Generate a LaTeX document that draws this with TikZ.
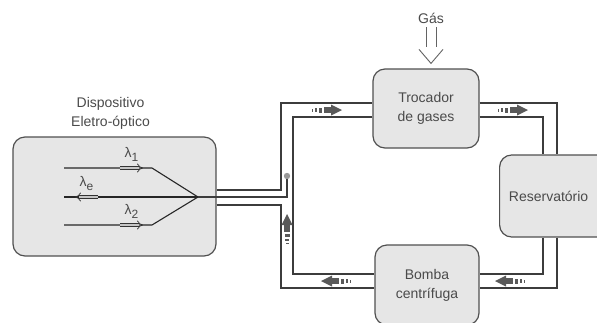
\documentclass[tikz,border=0pt]{standalone}
\usepackage{fontspec}
\setmainfont{Liberation Sans}
\usetikzlibrary{positioning,arrows.meta}
\definecolor{boxgray}{HTML}{E6E6E6}
\definecolor{linegray}{HTML}{3C3C3C}
\definecolor{txtgray}{HTML}{4A4A4A}
\newcommand{\lam}[1]{λ\raisebox{-.45ex}{\fontsize{12}{12}\selectfont #1}}
% small flow marks inside the tubes: position, angle
\newcommand{\flowmark}[2]{%
  \begin{scope}[shift={#1},rotate=#2,fill=linegray!85]
    \fill (-15,-1.5) rectangle (-14,1.5);
    \fill (-12,-2) rectangle (-10,2);
    \fill (-8,-2.5) rectangle (-5,2.5);
    \fill (-3,-3) rectangle (5,3);
    \fill (4,-5.5) -- (15,0) -- (4,5.5) -- cycle;
  \end{scope}}
\begin{document}
\begin{tikzpicture}[x=1pt,y=-1pt,font=\fontsize{14}{19}\selectfont,text=txtgray,
  box/.style={draw=linegray!90,line width=1.2pt,fill=boxgray,rounded corners=12pt,inner sep=0pt},
  tube/.style={draw=linegray,line width=1.3pt},
  fiber/.style={draw=black!85,line width=1.1pt},
  hollow/.style={double=gray!45,double distance=2.4pt,line width=0.7pt,draw=black!80,-{Implies[length=3.5pt]}},
  gasline/.style={draw=linegray!80,line width=0.9pt}]
\useasboundingbox (0,0) rectangle (597,322);
% boxes
\node[box,minimum width=203pt,minimum height=119pt] (dev) at (114.5,196.5) {};
\node[align=center,above=3pt of dev,xshift=-4pt] (devlab) {Dispositivo\\Eletro-óptico};
\node[box,minimum width=106pt,minimum height=79pt,align=center] (troc) at (426,108.5) {Trocador\\de gases};
\node[box,minimum width=130pt,minimum height=82pt,anchor=west,
      label={[xshift=-16pt]center:Reservatório}] (res) at (499,196) {};
\node[box,minimum width=104pt,minimum height=80pt,align=center] (bomba) at (427,285) {Bomba\\centrífuga};
\node (gas) at (431,18) {Gás};
% gas inlet (open double arrow)
\coordinate (gtip) at ([yshift=5pt]troc.north -| gas);
\draw[gasline] ([xshift=-5pt]gas.south) -- ++(0,20);
\draw[gasline] ([xshift=5pt]gas.south) -- ++(0,20);
\draw[gasline,line join=miter] ([xshift=-12pt,yshift=14pt]gtip) -- (gtip) -- ([xshift=12pt,yshift=14pt]gtip);
% fibres inside the device
\coordinate (apex) at (198,197);
\draw[fiber] (64,168) -- (152,168) -- (apex);
\draw[fiber] (64,225) -- (152,225) -- (apex);
\draw[fiber] (64,197) -- (apex);
\draw[hollow] (120,168) -- (143,168) node[midway,above=3pt,text=txtgray] (l1) {\lam{1}};
\draw[hollow] (120,225) -- (143,225) node[midway,above=3pt,text=txtgray] (l2) {\lam{2}};
\draw[hollow] (98,197) -- (75,197) node[midway,above=3pt,text=txtgray] (le) {\lam{e}};
% tubes
\draw[tube] (dev.east |- 0,190) -| (281,103) -- (troc.west |- 0,103);
\draw[tube] (troc.west |- 0,117) -| (293,274) -- (bomba.west |- 0,274);
\draw[tube] (dev.east |- 0,205) -| (281,288) -- (bomba.west |- 0,288);
\draw[tube] (apex) -- (287,197) -- (287,178);
\fill[gray!80] (287,176) circle (3.2pt);
\draw[tube] (troc.east |- 0,103) -| (res.north -| 557,0);
\draw[tube] (troc.east |- 0,117) -| (res.north -| 543,0);
\draw[tube] (res.south -| 557,0) |- (bomba.east |- 0,288);
\draw[tube] (res.south -| 543,0) |- (bomba.east |- 0,274);
% flow direction
\flowmark{(327,110)}{0}
\flowmark{(513,110)}{0}
\flowmark{(510,281)}{180}
\flowmark{(336,281)}{180}
\flowmark{(287,229)}{90}
\end{tikzpicture}
\end{document}
